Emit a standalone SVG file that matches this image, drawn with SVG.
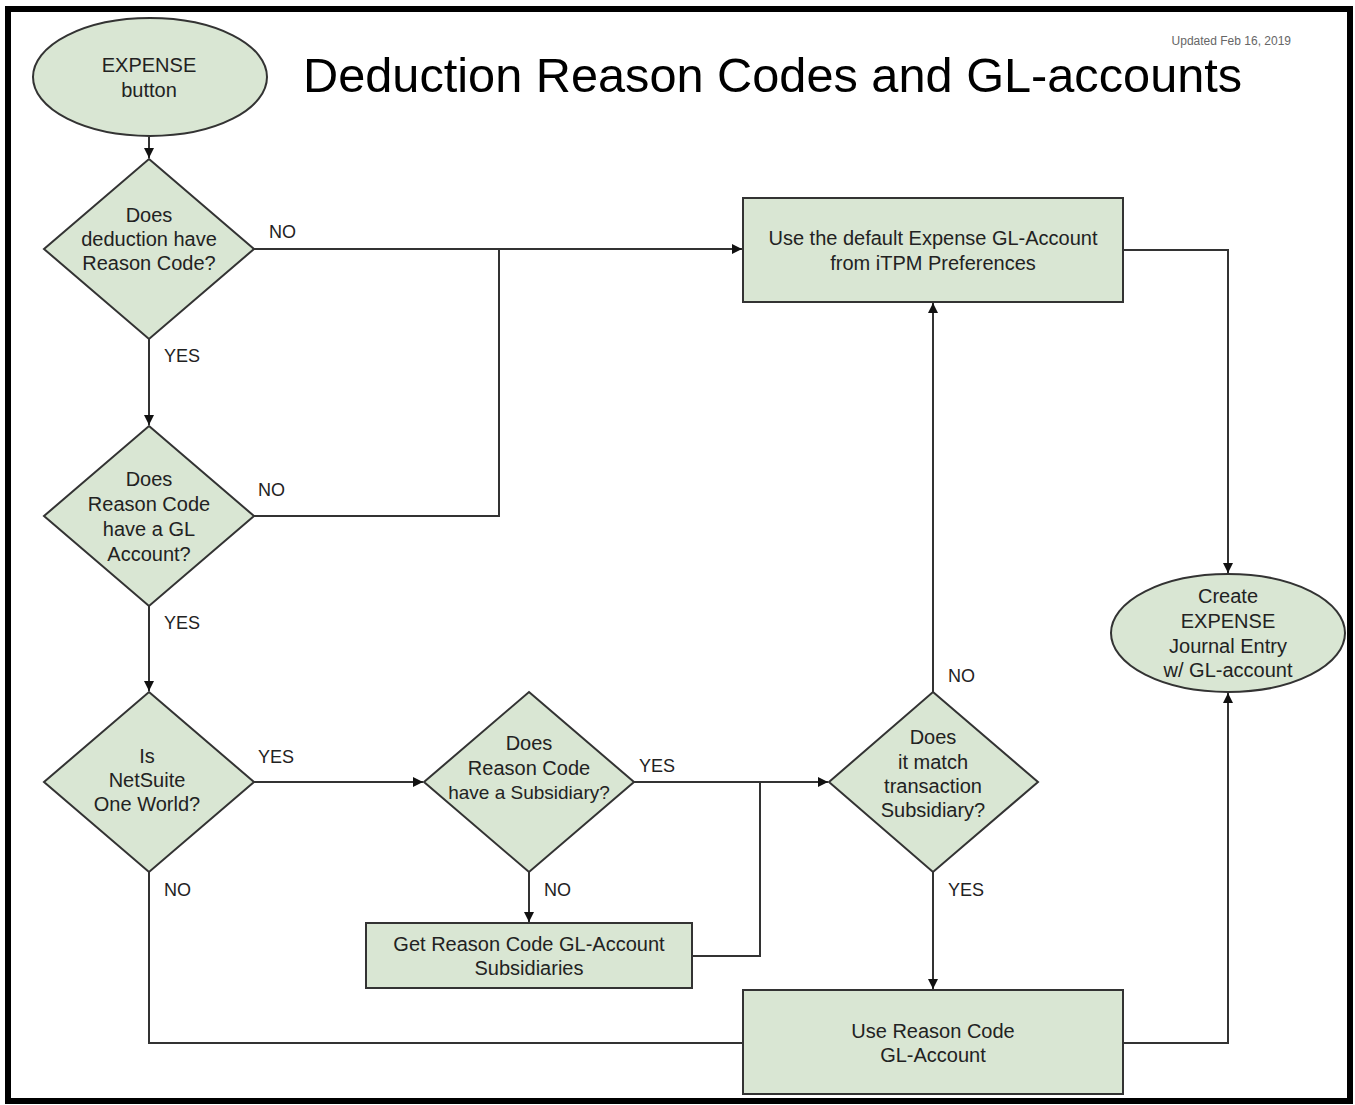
<svg xmlns="http://www.w3.org/2000/svg" width="1355" height="1105" viewBox="0 0 1355 1105">
<defs>
<marker id="arr" viewBox="0 0 10 10" refX="10" refY="5" markerWidth="11" markerHeight="10" markerUnits="userSpaceOnUse" orient="auto">
<path d="M0,0 L10,5 L0,10 z" fill="#111"/>
</marker>
<style>
.shape{fill:#d9e6d3;stroke:#333;stroke-width:2}
.t{font-family:"Liberation Sans",Arial,sans-serif;font-size:20px;fill:#222;text-anchor:middle}
.lbl{font-family:"Liberation Sans",Arial,sans-serif;font-size:18px;fill:#222}
.c{fill:none;stroke:#333;stroke-width:2}
.ca{fill:none;stroke:#333;stroke-width:2;marker-end:url(#arr)}
</style>
</defs>
<rect x="0" y="0" width="1355" height="1105" fill="#fff"/>
<rect x="8" y="9" width="1342" height="1092" fill="none" stroke="#000" stroke-width="6"/>
<text x="303" y="92" font-family="Liberation Sans, Arial, sans-serif" font-size="48.7" fill="#000">Deduction Reason Codes and GL-accounts</text>
<text x="1291" y="45" font-family="Liberation Sans, Arial, sans-serif" font-size="12" fill="#666" text-anchor="end">Updated Feb 16, 2019</text>

<g id="connectors">
<path class="ca" d="M149,137 L149,158"/>
<path class="ca" d="M254,249 L742,249"/>
<path class="ca" d="M149,339 L149,425"/>
<path class="c" d="M254,516 L499,516 L499,249"/>
<path class="ca" d="M149,606 L149,691"/>
<path class="ca" d="M254,782 L423,782"/>
<path class="c" d="M149,872 L149,1043 L743,1043"/>
<path class="ca" d="M634,782 L828,782"/>
<path class="ca" d="M529,872 L529,922"/>
<path class="c" d="M692,956 L760,956 L760,782"/>
<path class="ca" d="M933,692 L933,303"/>
<path class="ca" d="M933,872 L933,989"/>
<path class="ca" d="M1123,250 L1228,250 L1228,573"/>
<path class="ca" d="M1123,1043 L1228,1043 L1228,693"/>
<text class="lbl" x="269" y="238">NO</text>
<text class="lbl" x="164" y="362">YES</text>
<text class="lbl" x="258" y="496">NO</text>
<text class="lbl" x="164" y="629">YES</text>
<text class="lbl" x="258" y="763">YES</text>
<text class="lbl" x="164" y="896">NO</text>
<text class="lbl" x="639" y="772">YES</text>
<text class="lbl" x="544" y="896">NO</text>
<text class="lbl" x="948" y="682">NO</text>
<text class="lbl" x="948" y="896">YES</text>
</g>

<g id="expense-button">
<ellipse class="shape" cx="150" cy="77" rx="117" ry="59"/>
<text class="t" x="149" y="72">EXPENSE</text>
<text class="t" x="149" y="97">button</text>
</g>
<g id="has-reason-code">
<path class="shape" d="M149,159 L254,249 L149,339 L44,249 z"/>
<text class="t" x="149" y="222">Does</text>
<text class="t" x="149" y="246">deduction have</text>
<text class="t" x="149" y="270">Reason Code?</text>
</g>
<g id="has-gl-account">
<path class="shape" d="M149,426 L254,516 L149,606 L44,516 z"/>
<text class="t" x="149" y="486">Does</text>
<text class="t" x="149" y="511">Reason Code</text>
<text class="t" x="149" y="536">have a GL</text>
<text class="t" x="149" y="561">Account?</text>
</g>
<g id="is-one-world">
<path class="shape" d="M149,692 L254,782 L149,872 L44,782 z"/>
<text class="t" x="147" y="763">Is</text>
<text class="t" x="147" y="787">NetSuite</text>
<text class="t" x="147" y="811">One World?</text>
</g>
<g id="has-subsidiary">
<path class="shape" d="M529,692 L634,782 L529,872 L424,782 z"/>
<text class="t" x="529" y="750">Does</text>
<text class="t" x="529" y="775">Reason Code</text>
<text class="t" x="529" y="799" style="font-size:19px">have a Subsidiary?</text>
</g>
<g id="match-subsidiary">
<path class="shape" d="M933,692 L1038,782 L933,872 L829,782 z"/>
<text class="t" x="933" y="744">Does</text>
<text class="t" x="933" y="769">it match</text>
<text class="t" x="933" y="793">transaction</text>
<text class="t" x="933" y="817">Subsidiary?</text>
</g>
<g id="default-gl">
<rect class="shape" x="743" y="198" width="380" height="104"/>
<text class="t" x="933" y="245">Use the default Expense GL-Account</text>
<text class="t" x="933" y="270">from iTPM Preferences</text>
</g>
<g id="create-je">
<ellipse class="shape" cx="1228" cy="633" rx="117" ry="59"/>
<text class="t" x="1228" y="603">Create</text>
<text class="t" x="1228" y="628">EXPENSE</text>
<text class="t" x="1228" y="653">Journal Entry</text>
<text class="t" x="1228" y="677">w/ GL-account</text>
</g>
<g id="get-subsidiaries">
<rect class="shape" x="366" y="923" width="326" height="65"/>
<text class="t" x="529" y="951">Get Reason Code GL-Account</text>
<text class="t" x="529" y="975">Subsidiaries</text>
</g>
<g id="use-reason-gl">
<rect class="shape" x="743" y="990" width="380" height="104"/>
<text class="t" x="933" y="1038">Use Reason Code</text>
<text class="t" x="933" y="1062">GL-Account</text>
</g>
</svg>
